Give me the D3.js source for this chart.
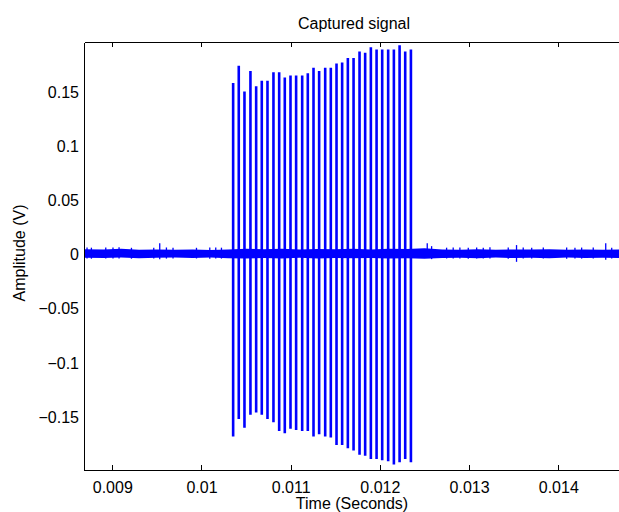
<!DOCTYPE html>
<html>
<head>
<meta charset="utf-8">
<script src="https://cdn.jsdelivr.net/npm/d3@7"></script>
<style>
  body { margin: 0; background: #fff; }
  text { font-family: "Liberation Sans", Arial, sans-serif; }
</style>
</head>
<body>
<svg id="chart" width="619" height="512"></svg>
<script>
// axis ticks
const xTicks = [0.009, 0.010, 0.011, 0.012, 0.013, 0.014];
const xTickLabels = ["0.009", "0.01", "0.011", "0.012", "0.013", "0.014"];
const yTicks = [-0.15, -0.1, -0.05, 0, 0.05, 0.1, 0.15];
const yTickLabels = ["\u22120.15", "\u22120.1", "\u22120.05", "0", "0.05", "0.1", "0.15"];

// pulse train (time of each pulse, positive and negative peak in volts)
const pulseT = [0.010355, 0.010418, 0.010482, 0.010549, 0.010613, 0.010676, 0.010740, 0.010807,
  0.010871, 0.010934, 0.010998, 0.011061, 0.011129, 0.011192, 0.011256, 0.011319,
  0.011387, 0.011450, 0.011514, 0.011577, 0.011641, 0.011705, 0.011772, 0.011835,
  0.011899, 0.011963, 0.012026, 0.012093, 0.012157, 0.012221, 0.012284, 0.012348];
const pulsePos = [0.159, 0.175, 0.151, 0.170, 0.156, 0.161, 0.161, 0.169,
  0.169, 0.164, 0.166, 0.166, 0.166, 0.168, 0.173, 0.170,
  0.173, 0.173, 0.177, 0.178, 0.182, 0.182, 0.188, 0.187,
  0.192, 0.190, 0.190, 0.190, 0.190, 0.194, 0.188, 0.190];
const pulseNeg = [-0.168, -0.152, -0.160, -0.148, -0.146, -0.148, -0.152, -0.155,
  -0.163, -0.165, -0.161, -0.162, -0.163, -0.163, -0.168, -0.166,
  -0.168, -0.169, -0.176, -0.176, -0.179, -0.181, -0.185, -0.186,
  -0.189, -0.189, -0.190, -0.191, -0.194, -0.192, -0.189, -0.192];

// background noise band (upper / lower envelope)
const noiseT = [0.00868, 0.0089, 0.0091, 0.0093, 0.0095, 0.0097, 0.0099, 0.0101, 0.0103, 0.0105,
  0.0107, 0.0109, 0.0111, 0.0113, 0.0115, 0.0117, 0.0119, 0.0121, 0.0123, 0.0125,
  0.0127, 0.0129, 0.0131, 0.0133, 0.0135, 0.0137, 0.0139, 0.0141, 0.0143, 0.0145, 0.0147];
const noiseHi = [0.0052, 0.0048, 0.0055, 0.0047, 0.0050, 0.0046, 0.0049, 0.0045, 0.0050, 0.0055,
  0.0052, 0.0056, 0.0050, 0.0054, 0.0051, 0.0055, 0.0050, 0.0056, 0.0053, 0.0060,
  0.0050, 0.0047, 0.0052, 0.0046, 0.0050, 0.0048, 0.0051, 0.0046, 0.0049, 0.0047, 0.0050];
const noiseLo = [-0.0026, -0.0030, -0.0024, -0.0031, -0.0027, -0.0025, -0.0030, -0.0026, -0.0032, -0.0035,
  -0.0030, -0.0033, -0.0028, -0.0034, -0.0030, -0.0032, -0.0029, -0.0034, -0.0031, -0.0036,
  -0.0030, -0.0027, -0.0031, -0.0026, -0.0030, -0.0027, -0.0031, -0.0026, -0.0029, -0.0027, -0.0030];

// isolated glitches in the noise
const glitchT = [0.009532, 0.012531, 0.013532, 0.014532,
  0.008717, 0.008766, 0.008927, 0.009008, 0.009076, 0.009215, 0.009465, 0.009607, 0.009681,
  0.009944, 0.010093, 0.010160, 0.010224,
  0.012580, 0.012748, 0.012822, 0.012897, 0.012991, 0.013085, 0.013159, 0.013234, 0.013439,
  0.013607, 0.013702, 0.013832, 0.014094, 0.014187, 0.014262, 0.014392, 0.014599];
const glitchHi = [0.0106, 0.0106, 0.0090, 0.0106,
  0.0068, 0.0066, 0.0068, 0.0067, 0.0069, 0.0065, 0.0066, 0.0068, 0.0066,
  0.0065, 0.0068, 0.0067, 0.0066,
  0.0080, 0.0066, 0.0068, 0.0067, 0.0066, 0.0068, 0.0066, 0.0069, 0.0067,
  0.0068, 0.0066, 0.0067, 0.0068, 0.0066, 0.0067, 0.0068, 0.0066];
const glitchLo = [-0.0040, -0.0030, -0.0065, -0.0045,
  -0.0034, -0.0036, -0.0033, -0.0035, -0.0034, -0.0036, -0.0034, -0.0035, -0.0033,
  -0.0034, -0.0036, -0.0034, -0.0035,
  -0.0040, -0.0034, -0.0035, -0.0033, -0.0036, -0.0034, -0.0035, -0.0033, -0.0036,
  -0.0034, -0.0035, -0.0033, -0.0036, -0.0034, -0.0035, -0.0033, -0.0035];

const margin = {top: 42, right: -1, bottom: 42, left: 84};
const W = 619, H = 512;
const width = W - margin.left - margin.right;
const height = H - margin.top - margin.bottom;

const svg = d3.select("#chart");
const chart = svg.append("g").attr("transform", `translate(${margin.left},${margin.top})`);

const x = d3.scaleLinear().domain([0.008683, 0.014692]).range([0, width]);
const y = d3.scaleLinear().domain([-0.1991, 0.1969]).range([height, 0]);

chart.append("clipPath").attr("id", "clip")
  .append("rect").attr("width", width).attr("height", height);

const plot = chart.append("g").attr("clip-path", "url(#clip)");

// noise band
const band = noiseT.map((t, i) => ({t: t, hi: noiseHi[i], lo: noiseLo[i]}));
plot.append("path")
  .datum(band)
  .attr("fill", "#0000ff")
  .attr("d", d3.area().x(d => x(d.t)).y0(d => y(d.lo)).y1(d => y(d.hi)));

// glitches
plot.selectAll(".glitch")
  .data(glitchT.map((t, i) => ({t: t, hi: glitchHi[i], lo: glitchLo[i]})))
  .join("line")
  .attr("class", "glitch")
  .attr("x1", d => x(d.t)).attr("x2", d => x(d.t))
  .attr("y1", d => y(d.lo)).attr("y2", d => y(d.hi))
  .attr("stroke", "#0000ff")
  .attr("stroke-width", 1.3);

// pulses
plot.selectAll(".pulse")
  .data(pulseT.map((t, i) => ({t: t, pos: pulsePos[i], neg: pulseNeg[i]})))
  .join("line")
  .attr("class", "pulse")
  .attr("x1", d => x(d.t)).attr("x2", d => x(d.t))
  .attr("y1", d => y(d.neg)).attr("y2", d => y(d.pos))
  .attr("stroke", "#0000ff")
  .attr("stroke-width", 2.6);

// axes
const xAxis = d3.axisBottom(x)
  .tickValues(xTicks)
  .tickFormat((d, i) => xTickLabels[i])
  .tickSizeInner(-5).tickSizeOuter(0).tickPadding(12);
const xAxisG = chart.append("g")
  .attr("transform", `translate(0,${height})`)
  .call(xAxis);

const xTopG = chart.append("g")
  .call(d3.axisTop(x).tickValues(xTicks).tickFormat("").tickSizeInner(-5).tickSizeOuter(0));

const yAxisG = chart.append("g")
  .call(d3.axisLeft(y)
    .tickValues(yTicks)
    .tickFormat((d, i) => yTickLabels[i])
    .tickSize(0).tickPadding(5));

[xAxisG, xTopG, yAxisG].forEach(g => {
  g.selectAll("path, line").attr("stroke", "#000").attr("shape-rendering", "crispEdges");
  g.selectAll("text").attr("font-size", 16).attr("fill", "#000")
    .style("font-family", "'Liberation Sans', Arial, sans-serif");
});

// titles
svg.append("text")
  .attr("x", 354).attr("y", 29)
  .attr("text-anchor", "middle")
  .attr("font-size", 16)
  .text("Captured signal");

svg.append("text")
  .attr("x", 352).attr("y", 509)
  .attr("text-anchor", "middle")
  .attr("font-size", 16)
  .text("Time (Seconds)");

svg.append("text")
  .attr("transform", "translate(25,253) rotate(-90)")
  .attr("text-anchor", "middle")
  .attr("font-size", 16)
  .text("Amplitude (V)");
</script>
</body>
</html>
